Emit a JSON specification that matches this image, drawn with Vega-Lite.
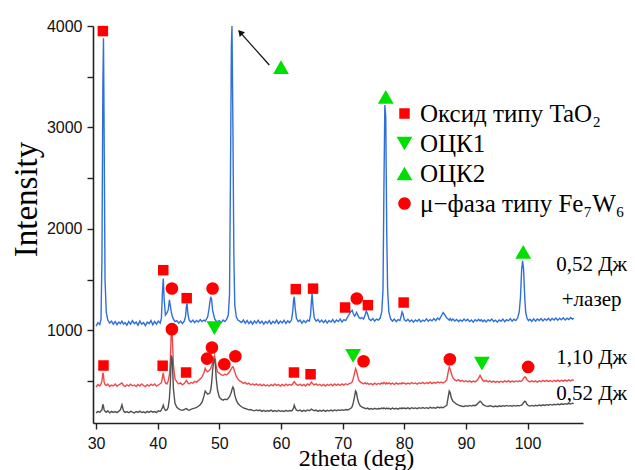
{
"$schema": "https://vega.github.io/schema/vega-lite/v6.json",
"width": 490, "height": 397,
"autosize": {"type": "none"},
"padding": {"left": 93, "top": 26, "right": 52, "bottom": 47},
"background": "white",
"config": {
 "view": {"stroke": null},
 "axis": {"grid": false, "domainColor": "#222", "domainWidth": 1.6, "tickColor": "#222", "tickWidth": 1.4, "tickSize": 6, "labelFont": "Liberation Sans", "labelFontSize": 16, "labelColor": "#111", "titleFont": "Liberation Serif", "titleFontWeight": "normal", "titleColor": "#000"}
},
"datasets": {
 "spectra": [
{"x":30.0,"b":1040,"r":440,"k":185},{"x":30.3,"b":1075,"r":465,"k":200},{"x":30.6,"b":1055,"r":450,"k":190},{"x":30.8,"b":1110,"r":470,"k":205},{"x":30.95,"b":1700,"r":500,"k":215},{"x":31.1,"b":3400,"r":580,"k":270},{"x":31.2,"b":3880,"r":560,"k":250},{"x":31.3,"b":3000,"r":490,"k":215},{"x":31.45,"b":1500,"r":465,"k":200},{"x":31.65,"b":1180,"r":455,"k":190},{"x":31.9,"b":1100,"r":470,"k":205},
{"x":32.2,"b":1070,"r":445,"k":185},{"x":32.5,"b":1090,"r":460,"k":200},{"x":32.8,"b":1060,"r":450,"k":190},{"x":33.1,"b":1085,"r":470,"k":198},{"x":33.4,"b":1055,"r":448,"k":188},{"x":33.7,"b":1080,"r":462,"k":202},{"x":33.95,"b":1065,"r":470,"k":215},{"x":34.2,"b":1090,"r":480,"k":265},{"x":34.45,"b":1060,"r":455,"k":205},{"x":34.7,"b":1075,"r":445,"k":190},
{"x":35.0,"b":1050,"r":462,"k":198},{"x":35.3,"b":1085,"r":450,"k":186},{"x":35.6,"b":1060,"r":468,"k":200},{"x":35.9,"b":1095,"r":452,"k":192},{"x":36.2,"b":1065,"r":460,"k":185},{"x":36.5,"b":1080,"r":445,"k":198},{"x":36.8,"b":1050,"r":465,"k":190},{"x":37.1,"b":1090,"r":450,"k":202},{"x":37.4,"b":1060,"r":470,"k":188},{"x":37.7,"b":1075,"r":455,"k":196},
{"x":38.0,"b":1045,"r":443,"k":185},{"x":38.3,"b":1080,"r":462,"k":200},{"x":38.6,"b":1065,"r":450,"k":190},{"x":38.9,"b":1095,"r":468,"k":203},{"x":39.2,"b":1055,"r":455,"k":192},{"x":39.5,"b":1085,"r":470,"k":198},{"x":39.8,"b":1060,"r":448,"k":188},{"x":40.1,"b":1090,"r":460,"k":205},{"x":40.4,"b":1070,"r":472,"k":200},{"x":40.6,"b":1120,"r":480,"k":215},
{"x":40.75,"b":1350,"r":530,"k":235},{"x":40.9,"b":1510,"r":580,"k":260},{"x":41.05,"b":1300,"r":520,"k":230},{"x":41.25,"b":1150,"r":480,"k":210},{"x":41.5,"b":1170,"r":470,"k":215},{"x":41.7,"b":1200,"r":500,"k":240},{"x":41.9,"b":1300,"r":560,"k":330},{"x":42.05,"b":1240,"r":700,"k":480},{"x":42.2,"b":1180,"r":1000,"k":750},{"x":42.35,"b":1140,"r":960,"k":720},
{"x":42.55,"b":1110,"r":650,"k":420},{"x":42.8,"b":1085,"r":520,"k":280},{"x":43.1,"b":1095,"r":490,"k":240},{"x":43.4,"b":1070,"r":470,"k":225},{"x":43.7,"b":1090,"r":480,"k":215},{"x":44.0,"b":1065,"r":462,"k":210},{"x":44.3,"b":1090,"r":475,"k":218},{"x":44.5,"b":1130,"r":490,"k":225},{"x":44.65,"b":1230,"r":505,"k":228},{"x":44.75,"b":1265,"r":495,"k":222},
{"x":44.9,"b":1160,"r":480,"k":215},{"x":45.1,"b":1100,"r":470,"k":210},{"x":45.4,"b":1080,"r":485,"k":220},{"x":45.7,"b":1100,"r":478,"k":226},{"x":46.0,"b":1075,"r":495,"k":232},{"x":46.3,"b":1095,"r":488,"k":240},{"x":46.6,"b":1080,"r":505,"k":250},{"x":46.9,"b":1105,"r":520,"k":265},{"x":47.2,"b":1085,"r":540,"k":290},{"x":47.5,"b":1100,"r":580,"k":350},
{"x":47.7,"b":1090,"r":625,"k":400},{"x":47.9,"b":1110,"r":600,"k":385},{"x":48.1,"b":1130,"r":590,"k":370},{"x":48.3,"b":1200,"r":600,"k":375},{"x":48.45,"b":1270,"r":610,"k":380},{"x":48.6,"b":1330,"r":620,"k":410},{"x":48.75,"b":1300,"r":650,"k":480},{"x":48.9,"b":1200,"r":680,"k":600},{"x":49.05,"b":1160,"r":720,"k":680},{"x":49.2,"b":1120,"r":750,"k":720},
{"x":49.35,"b":1100,"r":710,"k":660},{"x":49.5,"b":1090,"r":640,"k":520},{"x":49.7,"b":1085,"r":590,"k":410},{"x":50.0,"b":1095,"r":575,"k":340},{"x":50.3,"b":1075,"r":560,"k":320},{"x":50.6,"b":1100,"r":555,"k":310},{"x":50.9,"b":1085,"r":565,"k":320},{"x":51.2,"b":1110,"r":560,"k":315},{"x":51.45,"b":1150,"r":575,"k":330},{"x":51.65,"b":1350,"r":590,"k":345},
{"x":51.8,"b":2500,"r":605,"k":365},{"x":51.95,"b":3800,"r":620,"k":390},{"x":52.05,"b":4000,"r":630,"k":415},{"x":52.2,"b":3000,"r":640,"k":440},{"x":52.35,"b":1750,"r":620,"k":420},{"x":52.5,"b":1250,"r":590,"k":360},{"x":52.75,"b":1130,"r":545,"k":310},{"x":53.0,"b":1100,"r":520,"k":280},{"x":53.3,"b":1090,"r":500,"k":260},{"x":53.6,"b":1075,"r":490,"k":245},
{"x":53.9,"b":1100,"r":475,"k":235},{"x":54.2,"b":1070,"r":485,"k":228},{"x":54.5,"b":1095,"r":468,"k":222},{"x":54.8,"b":1065,"r":478,"k":215},{"x":55.1,"b":1088,"r":460,"k":218},{"x":55.4,"b":1060,"r":472,"k":210},{"x":55.7,"b":1092,"r":458,"k":205},{"x":56.0,"b":1070,"r":470,"k":214},{"x":56.3,"b":1098,"r":455,"k":206},{"x":56.6,"b":1068,"r":468,"k":212},
{"x":56.9,"b":1090,"r":452,"k":200},{"x":57.2,"b":1060,"r":466,"k":210},{"x":57.5,"b":1085,"r":450,"k":198},{"x":57.8,"b":1070,"r":462,"k":208},{"x":58.1,"b":1095,"r":448,"k":202},{"x":58.4,"b":1062,"r":465,"k":212},{"x":58.7,"b":1088,"r":452,"k":200},{"x":59.0,"b":1070,"r":470,"k":208},{"x":59.3,"b":1100,"r":455,"k":198},{"x":59.6,"b":1065,"r":463,"k":210},
{"x":59.9,"b":1090,"r":450,"k":200},{"x":60.2,"b":1072,"r":466,"k":205},{"x":60.5,"b":1098,"r":452,"k":198},{"x":60.8,"b":1066,"r":468,"k":210},{"x":61.1,"b":1092,"r":455,"k":200},{"x":61.4,"b":1075,"r":465,"k":208},{"x":61.7,"b":1100,"r":458,"k":204},{"x":61.9,"b":1180,"r":470,"k":215},{"x":62.05,"b":1300,"r":485,"k":235},{"x":62.15,"b":1330,"r":492,"k":260},
{"x":62.3,"b":1220,"r":480,"k":235},{"x":62.5,"b":1120,"r":465,"k":212},{"x":62.8,"b":1085,"r":455,"k":205},{"x":63.1,"b":1100,"r":468,"k":212},{"x":63.4,"b":1070,"r":452,"k":200},{"x":63.7,"b":1095,"r":466,"k":210},{"x":64.0,"b":1075,"r":450,"k":202},{"x":64.3,"b":1100,"r":470,"k":214},{"x":64.6,"b":1090,"r":458,"k":206},{"x":64.8,"b":1150,"r":475,"k":215},
{"x":64.95,"b":1300,"r":488,"k":222},{"x":65.05,"b":1362,"r":480,"k":218},{"x":65.2,"b":1230,"r":470,"k":212},{"x":65.4,"b":1120,"r":460,"k":206},{"x":65.7,"b":1090,"r":470,"k":212},{"x":66.0,"b":1105,"r":455,"k":200},{"x":66.3,"b":1080,"r":467,"k":210},{"x":66.6,"b":1100,"r":452,"k":202},{"x":66.9,"b":1075,"r":465,"k":212},{"x":67.2,"b":1098,"r":450,"k":200},
{"x":67.5,"b":1070,"r":466,"k":210},{"x":67.8,"b":1095,"r":455,"k":203},{"x":68.1,"b":1080,"r":468,"k":212},{"x":68.4,"b":1105,"r":452,"k":204},{"x":68.7,"b":1075,"r":470,"k":214},{"x":69.0,"b":1100,"r":456,"k":206},{"x":69.3,"b":1085,"r":468,"k":214},{"x":69.6,"b":1110,"r":455,"k":208},{"x":69.9,"b":1080,"r":470,"k":216},{"x":70.2,"b":1105,"r":458,"k":210},
{"x":70.5,"b":1095,"r":472,"k":218},{"x":70.8,"b":1130,"r":462,"k":214},{"x":71.1,"b":1160,"r":475,"k":222},{"x":71.35,"b":1185,"r":478,"k":230},{"x":71.55,"b":1197,"r":490,"k":245},{"x":71.75,"b":1160,"r":530,"k":290},{"x":71.95,"b":1140,"r":580,"k":350},{"x":72.1,"b":1150,"r":620,"k":400},{"x":72.25,"b":1175,"r":600,"k":385},{"x":72.4,"b":1160,"r":560,"k":330},
{"x":72.6,"b":1130,"r":510,"k":285},{"x":72.85,"b":1115,"r":490,"k":255},{"x":73.1,"b":1125,"r":480,"k":245},{"x":73.4,"b":1110,"r":470,"k":235},{"x":73.65,"b":1150,"r":482,"k":230},{"x":73.85,"b":1190,"r":470,"k":226},{"x":74.05,"b":1160,"r":478,"k":232},{"x":74.3,"b":1110,"r":465,"k":222},{"x":74.6,"b":1095,"r":475,"k":228},{"x":74.9,"b":1115,"r":462,"k":220},
{"x":75.2,"b":1090,"r":478,"k":230},{"x":75.5,"b":1110,"r":465,"k":222},{"x":75.8,"b":1100,"r":475,"k":228},{"x":76.1,"b":1120,"r":468,"k":225},{"x":76.35,"b":1180,"r":480,"k":232},{"x":76.55,"b":1400,"r":472,"k":226},{"x":76.7,"b":2400,"r":485,"k":234},{"x":76.85,"b":3220,"r":478,"k":228},{"x":77.0,"b":3100,"r":470,"k":224},{"x":77.15,"b":2000,"r":482,"k":232},
{"x":77.3,"b":1400,"r":472,"k":226},{"x":77.5,"b":1180,"r":480,"k":230},{"x":77.8,"b":1110,"r":468,"k":222},{"x":78.1,"b":1090,"r":478,"k":232},{"x":78.4,"b":1110,"r":465,"k":224},{"x":78.7,"b":1085,"r":480,"k":230},{"x":79.0,"b":1105,"r":468,"k":222},{"x":79.3,"b":1095,"r":476,"k":232},{"x":79.5,"b":1140,"r":470,"k":226},{"x":79.65,"b":1180,"r":482,"k":234},
{"x":79.8,"b":1160,"r":474,"k":228},{"x":80.0,"b":1105,"r":480,"k":232},{"x":80.3,"b":1090,"r":468,"k":226},{"x":80.6,"b":1108,"r":478,"k":234},{"x":80.9,"b":1085,"r":470,"k":224},{"x":81.2,"b":1100,"r":484,"k":236},{"x":81.5,"b":1080,"r":472,"k":228},{"x":81.8,"b":1102,"r":480,"k":234},{"x":82.1,"b":1088,"r":468,"k":226},{"x":82.4,"b":1108,"r":482,"k":236},
{"x":82.7,"b":1082,"r":474,"k":230},{"x":83.0,"b":1100,"r":486,"k":238},{"x":83.3,"b":1090,"r":472,"k":230},{"x":83.6,"b":1112,"r":484,"k":236},{"x":83.9,"b":1088,"r":476,"k":228},{"x":84.2,"b":1105,"r":488,"k":240},{"x":84.5,"b":1092,"r":474,"k":232},{"x":84.8,"b":1115,"r":486,"k":238},{"x":85.1,"b":1095,"r":478,"k":230},{"x":85.4,"b":1120,"r":490,"k":242},
{"x":85.7,"b":1105,"r":482,"k":236},{"x":86.0,"b":1140,"r":488,"k":240},{"x":86.3,"b":1175,"r":480,"k":236},{"x":86.6,"b":1150,"r":492,"k":248},{"x":86.9,"b":1120,"r":510,"k":260},{"x":87.1,"b":1110,"r":580,"k":330},{"x":87.3,"b":1100,"r":640,"k":400},{"x":87.45,"b":1115,"r":615,"k":385},{"x":87.65,"b":1095,"r":570,"k":330},{"x":87.9,"b":1110,"r":530,"k":300},
{"x":88.2,"b":1090,"r":510,"k":285},{"x":88.5,"b":1105,"r":500,"k":270},{"x":88.8,"b":1085,"r":512,"k":262},{"x":89.1,"b":1102,"r":495,"k":255},{"x":89.4,"b":1088,"r":505,"k":250},{"x":89.7,"b":1110,"r":492,"k":248},{"x":90.0,"b":1092,"r":502,"k":256},{"x":90.3,"b":1108,"r":490,"k":250},{"x":90.6,"b":1085,"r":500,"k":258},{"x":90.9,"b":1100,"r":488,"k":252},
{"x":91.2,"b":1080,"r":498,"k":260},{"x":91.5,"b":1104,"r":490,"k":256},{"x":91.8,"b":1090,"r":505,"k":268},{"x":92.05,"b":1108,"r":525,"k":285},{"x":92.3,"b":1092,"r":555,"k":300},{"x":92.5,"b":1105,"r":530,"k":290},{"x":92.75,"b":1085,"r":505,"k":268},{"x":93.0,"b":1100,"r":495,"k":258},{"x":93.3,"b":1082,"r":505,"k":252},{"x":93.6,"b":1104,"r":490,"k":248},
{"x":93.9,"b":1090,"r":500,"k":256},{"x":94.2,"b":1110,"r":488,"k":250},{"x":94.5,"b":1086,"r":498,"k":246},{"x":94.8,"b":1100,"r":486,"k":252},{"x":95.1,"b":1080,"r":496,"k":246},{"x":95.4,"b":1102,"r":485,"k":254},{"x":95.7,"b":1088,"r":497,"k":248},{"x":96.0,"b":1110,"r":488,"k":256},{"x":96.3,"b":1085,"r":500,"k":250},{"x":96.6,"b":1104,"r":490,"k":258},
{"x":96.9,"b":1092,"r":502,"k":252},{"x":97.2,"b":1114,"r":488,"k":256},{"x":97.5,"b":1090,"r":498,"k":250},{"x":97.8,"b":1108,"r":490,"k":258},{"x":98.1,"b":1095,"r":500,"k":252},{"x":98.4,"b":1120,"r":492,"k":258},{"x":98.65,"b":1180,"r":502,"k":254},{"x":98.85,"b":1320,"r":494,"k":258},{"x":99.05,"b":1600,"r":500,"k":262},{"x":99.2,"b":1684,"r":510,"k":272},
{"x":99.35,"b":1610,"r":525,"k":285},{"x":99.55,"b":1320,"r":540,"k":300},{"x":99.7,"b":1180,"r":535,"k":295},{"x":99.9,"b":1120,"r":510,"k":270},{"x":100.15,"b":1095,"r":498,"k":256},{"x":100.4,"b":1108,"r":490,"k":252},{"x":100.7,"b":1088,"r":502,"k":258},{"x":101.0,"b":1112,"r":490,"k":252},{"x":101.3,"b":1090,"r":500,"k":260},{"x":101.6,"b":1110,"r":488,"k":254},
{"x":101.9,"b":1095,"r":502,"k":262},{"x":102.2,"b":1115,"r":492,"k":256},{"x":102.5,"b":1092,"r":505,"k":264},{"x":102.8,"b":1112,"r":494,"k":258},{"x":103.1,"b":1098,"r":506,"k":266},{"x":103.4,"b":1118,"r":495,"k":260},{"x":103.7,"b":1095,"r":504,"k":268},{"x":104.0,"b":1115,"r":492,"k":262},{"x":104.3,"b":1100,"r":506,"k":270},{"x":104.6,"b":1120,"r":496,"k":264},
{"x":104.9,"b":1098,"r":508,"k":272},{"x":105.2,"b":1118,"r":495,"k":266},{"x":105.5,"b":1102,"r":506,"k":274},{"x":105.8,"b":1122,"r":497,"k":268},{"x":106.1,"b":1100,"r":508,"k":276},{"x":106.4,"b":1118,"r":498,"k":270},{"x":106.7,"b":1105,"r":510,"k":278},{"x":107.0,"b":1125,"r":500,"k":272},{"x":107.3,"b":1108,"r":512,"k":280},{"x":107.5,"b":1120,"r":505,"k":276}
 ],
 "markers": [
{"x":31.1,"y":3950,"phase":"Оксид типу TaO₂"},{"x":40.9,"y":1592,"phase":"Оксид типу TaO₂"},{"x":44.7,"y":1316,"phase":"Оксид типу TaO₂"},{"x":62.4,"y":1405,"phase":"Оксид типу TaO₂"},{"x":65.2,"y":1410,"phase":"Оксид типу TaO₂"},{"x":70.4,"y":1224,"phase":"Оксид типу TaO₂"},{"x":74.1,"y":1247,"phase":"Оксид типу TaO₂"},{"x":79.9,"y":1273,"phase":"Оксид типу TaO₂"},{"x":31.2,"y":652,"phase":"Оксид типу TaO₂"},{"x":40.8,"y":650,"phase":"Оксид типу TaO₂"},{"x":44.6,"y":583,"phase":"Оксид типу TaO₂"},{"x":62.1,"y":583,"phase":"Оксид типу TaO₂"},{"x":64.8,"y":566,"phase":"Оксид типу TaO₂"},
{"x":49.2,"y":1020,"phase":"ОЦК1"},{"x":71.7,"y":746,"phase":"ОЦК1"},{"x":92.6,"y":670,"phase":"ОЦК1"},
{"x":60.0,"y":3595,"phase":"ОЦК2"},{"x":77.0,"y":3302,"phase":"ОЦК2"},{"x":99.3,"y":1773,"phase":"ОЦК2"},
{"x":42.3,"y":1411,"phase":"μ−фаза типу Fe₇W₆"},{"x":48.9,"y":1411,"phase":"μ−фаза типу Fe₇W₆"},{"x":72.3,"y":1313,"phase":"μ−фаза типу Fe₇W₆"},{"x":42.3,"y":1010,"phase":"μ−фаза типу Fe₇W₆"},{"x":48.0,"y":720,"phase":"μ−фаза типу Fe₇W₆"},{"x":48.8,"y":829,"phase":"μ−фаза типу Fe₇W₆"},{"x":50.8,"y":664,"phase":"μ−фаза типу Fe₇W₆"},{"x":52.6,"y":743,"phase":"μ−фаза типу Fe₇W₆"},{"x":73.4,"y":694,"phase":"μ−фаза типу Fe₇W₆"},{"x":87.4,"y":714,"phase":"μ−фаза типу Fe₇W₆"},{"x":100.1,"y":638,"phase":"μ−фаза типу Fe₇W₆"}
 ],
 "labels": [
{"x":110.4,"y":1642,"t":"0,52 Дж"},{"x":110.4,"y":1296,"t":"+лазер"},{"x":110.4,"y":724,"t":"1,10 Дж"},{"x":110.4,"y":368,"t":"0,52 Дж"}
 ],
 "arrow": [{"x":58.1,"y":3615,"x2":53.2,"y2":3950,"hx":53.39,"hy":3938}]
},
"layer": [
 {
  "data": {"name": "spectra"},
  "transform": [{"fold": ["b", "r", "k"], "as": ["series", "val"]}],
  "mark": {"type": "line", "strokeWidth": 1.4, "clip": true},
  "encoding": {
   "x": {"field": "x", "type": "quantitative", "scale": {"domain": [29.5, 109], "nice": false, "zero": false},
    "axis": {"values": [30,35,40,45,50,55,60,65,70,75,80,85,90,95,100,105], "labelExpr": "datum.value % 10 == 0 ? datum.label : ''", "labelPadding": 6, "title": "2theta (deg)", "titleFontSize": 24, "titleX": 263, "titleY": 42, "titleBaseline": "alphabetic", "titleAlign": "center"}},
   "y": {"field": "val", "type": "quantitative", "scale": {"domain": [85, 4000], "nice": false, "zero": false},
    "axis": {"values": [500,1000,1500,2000,2500,3000,3500,4000], "labelExpr": "datum.value % 1000 == 0 ? datum.label : ''", "format": "d", "labelPadding": 5, "title": "Intensity", "titleFontSize": 33, "titleX": -67, "titleY": 173, "titleBaseline": "middle", "titleAlign": "center", "titleAngle": -90}},
   "stroke": {"field": "series", "type": "nominal", "scale": {"domain": ["b", "r", "k"], "range": ["#2f6fdc", "#f04848", "#505050"]}, "legend": null}
  }
 },
 {
  "data": {"name": "arrow"},
  "mark": {"type": "rule", "color": "#111", "strokeWidth": 1.3},
  "encoding": {"x": {"field": "x", "type": "quantitative"}, "y": {"field": "y", "type": "quantitative"}, "x2": {"field": "x2"}, "y2": {"field": "y2"}}
 },
 {
  "data": {"name": "arrow"},
  "mark": {"type": "point", "shape": "triangle-up", "filled": true, "color": "#111", "size": 50, "angle": 318, "opacity": 1},
  "encoding": {"x": {"field": "hx", "type": "quantitative"}, "y": {"field": "hy", "type": "quantitative"}}
 },
 {
  "data": {"name": "markers"},
  "mark": {"type": "point", "filled": true, "opacity": 1, "strokeWidth": 0},
  "encoding": {
   "x": {"field": "x", "type": "quantitative"},
   "y": {"field": "y", "type": "quantitative"},
   "fill": {"field": "phase", "type": "nominal", "scale": {"domain": ["Оксид типу TaO₂", "ОЦК1", "ОЦК2", "μ−фаза типу Fe₇W₆"], "range": ["#ff0000", "#00e000", "#00e000", "#ff0000"]}, "title": null},
   "shape": {"field": "phase", "type": "nominal", "scale": {"domain": ["Оксид типу TaO₂", "ОЦК1", "ОЦК2", "μ−фаза типу Fe₇W₆"], "range": ["square", "triangle-down", "triangle-up", "circle"]}, "title": null},
   "size": {"field": "phase", "type": "nominal", "scale": {"type": "ordinal", "domain": ["Оксид типу TaO₂", "ОЦК1", "ОЦК2", "μ−фаза типу Fe₇W₆"], "range": [110, 250, 250, 160]}, "title": null,
    "legend": {"orient": "none", "legendX": 299, "legendY": 75, "labelFont": "Liberation Serif", "labelFontSize": 25, "labelColor": "#000", "rowPadding": 4, "labelOffset": 3, "labelLimit": 400}}
  }
 },
 {
  "data": {"name": "labels"},
  "mark": {"type": "text", "font": "Liberation Serif", "fontSize": 21, "color": "#000", "align": "center", "baseline": "middle"},
  "encoding": {"x": {"field": "x", "type": "quantitative"}, "y": {"field": "y", "type": "quantitative"}, "text": {"field": "t"}}
 }
]
}
